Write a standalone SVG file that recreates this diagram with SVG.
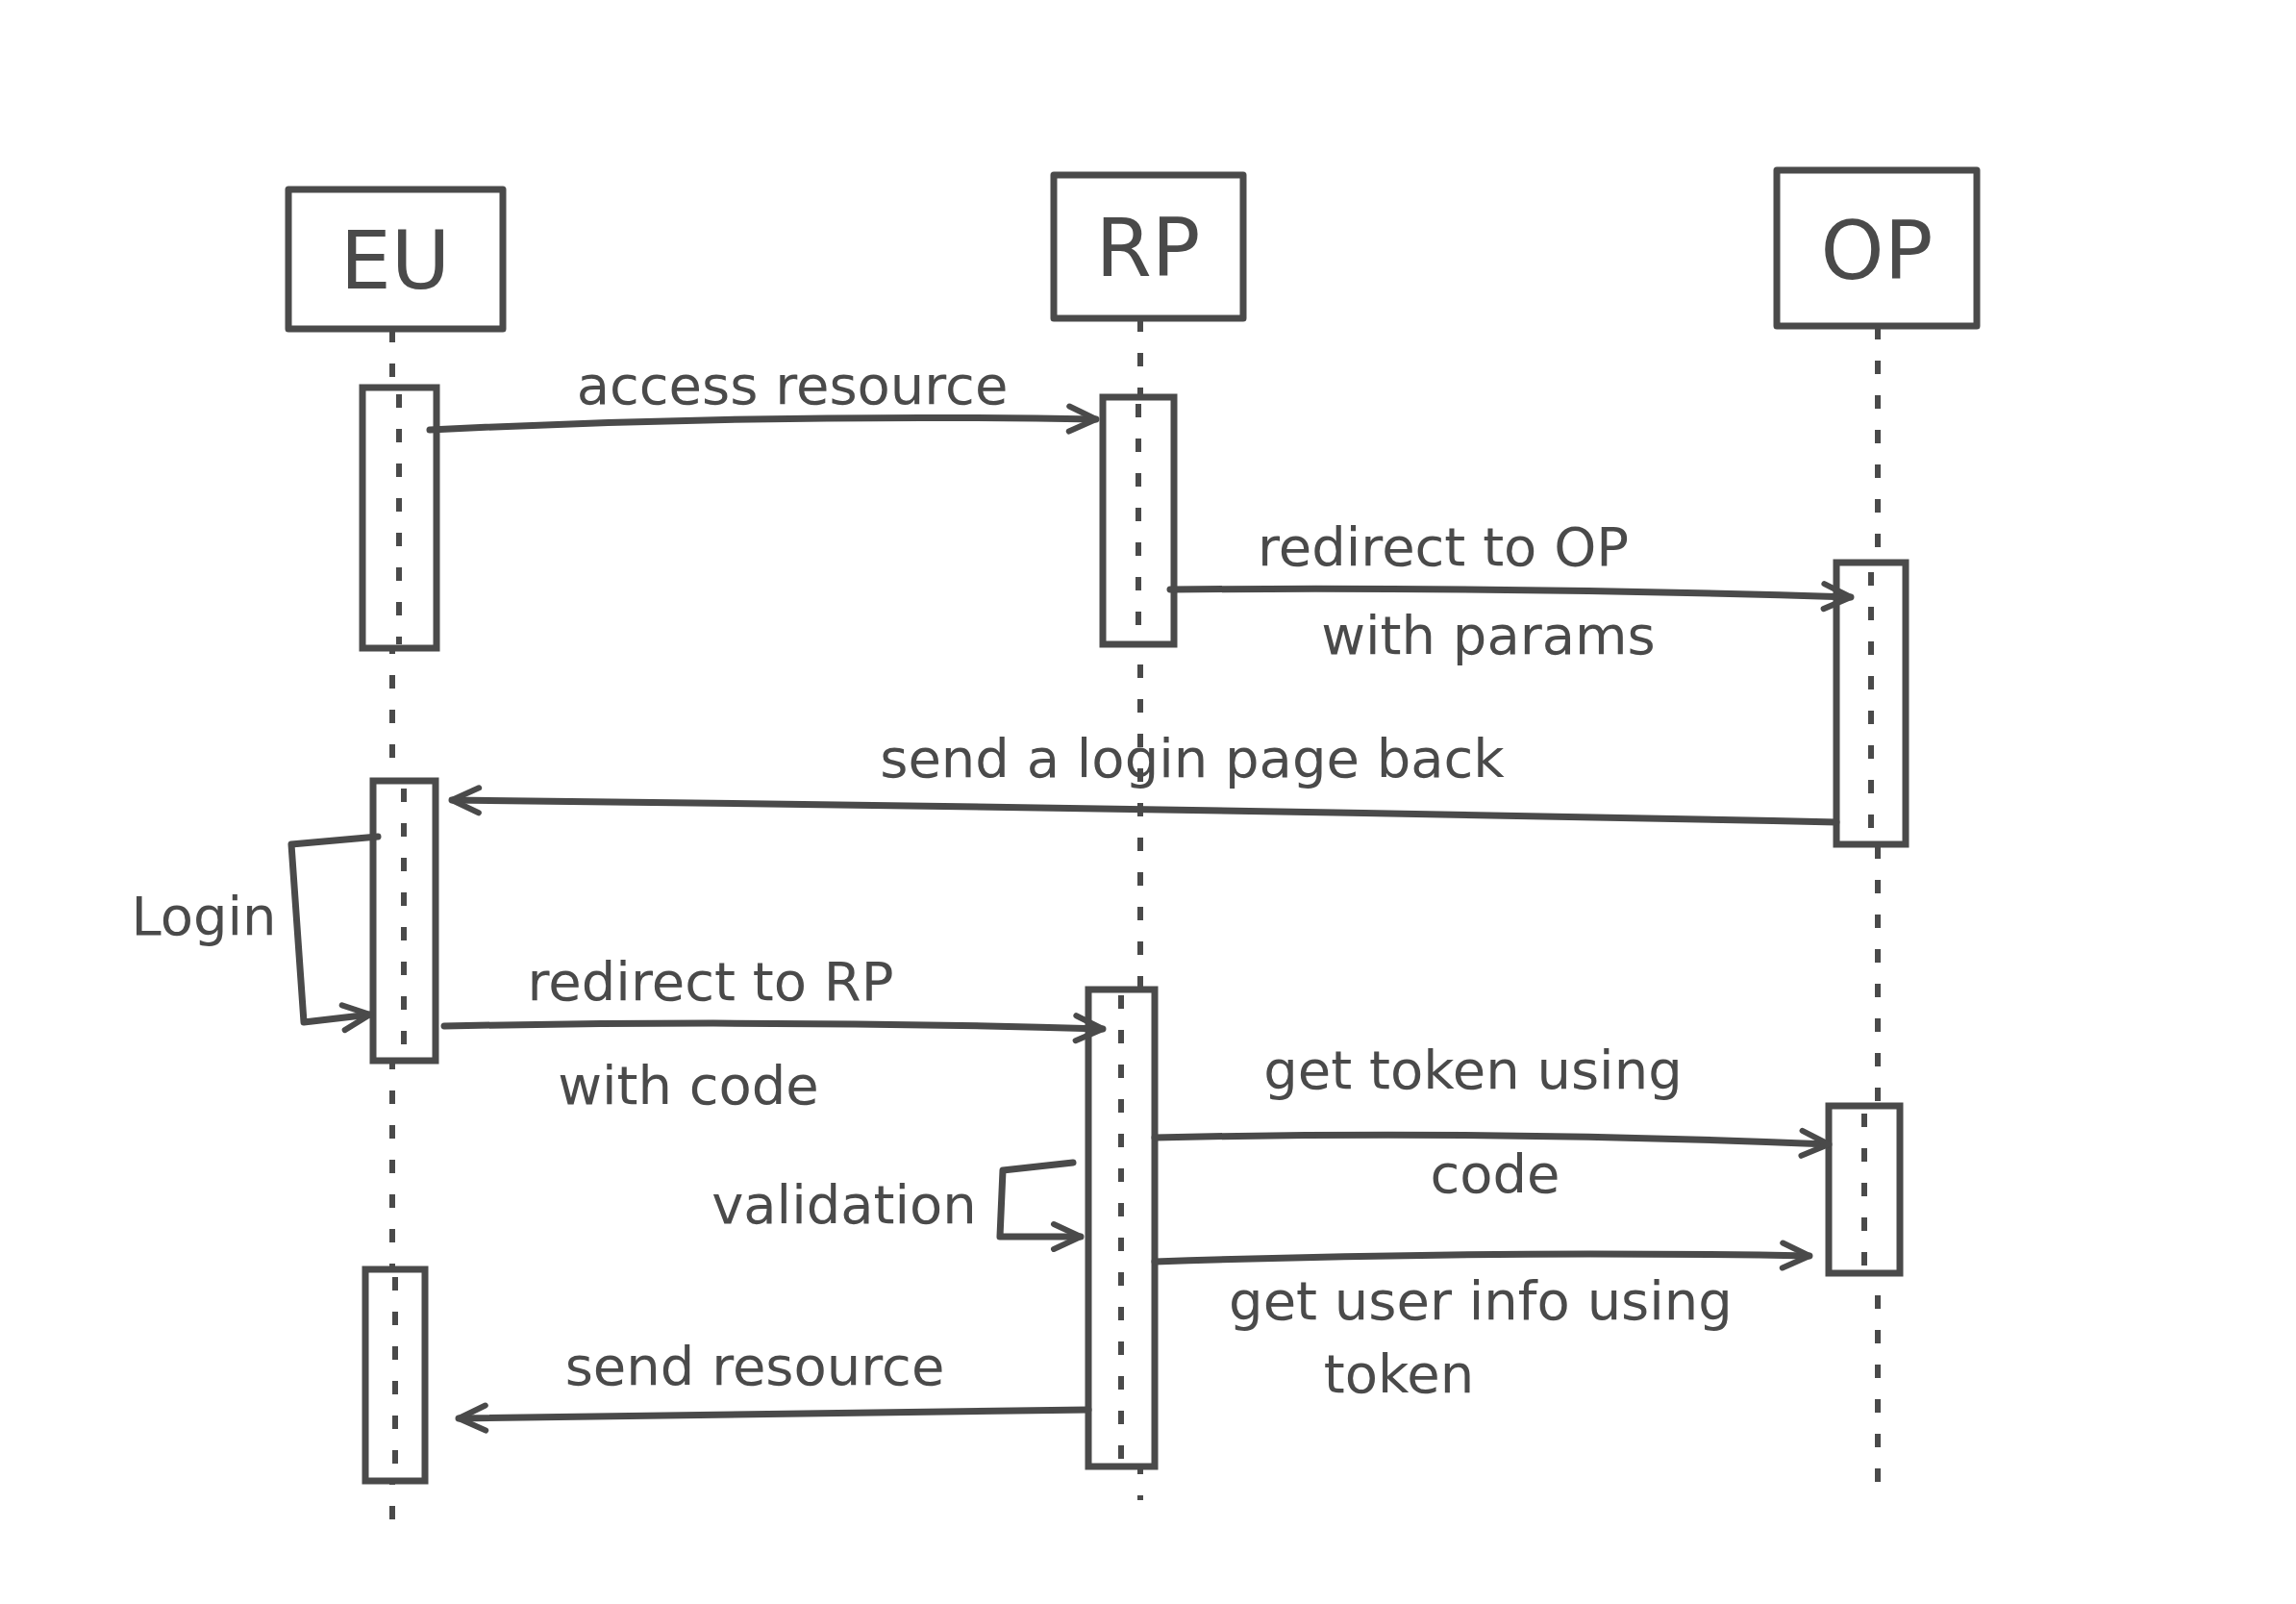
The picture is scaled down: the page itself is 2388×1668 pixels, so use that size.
<svg xmlns="http://www.w3.org/2000/svg" width="2388" height="1668" viewBox="0 0 2388 1668">
<style>
.b{fill:none;stroke:#4a4a4a;stroke-width:7;stroke-linecap:round;stroke-linejoin:round}
.a{fill:#fff;stroke:#4a4a4a;stroke-width:7}
.l{stroke:#4a4a4a;stroke-width:6;stroke-dasharray:14 22;fill:none}
.t{font-family:"DejaVu Sans",sans-serif;font-size:56px;fill:#4a4a4a;text-anchor:middle}
.h{font-size:84px}
</style>
<defs><marker id="m" viewBox="-2 -2 34 34" refX="30" refY="15" markerWidth="34" markerHeight="34" orient="auto" markerUnits="userSpaceOnUse"><path d="M2,2 L30,15 L2,28" fill="none" stroke="#4a4a4a" stroke-width="6" stroke-linecap="round" stroke-linejoin="round"/></marker></defs>
<rect width="2388" height="1668" fill="#fff"/>
<g id="lifelines">
<line class="l" x1="408" y1="342" x2="408" y2="1600"/>
<line class="l" x1="1186" y1="331" x2="1186" y2="1560"/>
<line class="l" x1="1953" y1="339" x2="1953" y2="1560"/>
</g>
<g id="EU"><rect class="b" x="300" y="197" width="223" height="145"/><text class="t h" x="411" y="300">EU</text></g>
<g id="RP"><rect class="b" x="1096" y="182" width="197" height="149"/><text class="t h" x="1194" y="287">RP</text></g>
<g id="OP"><rect class="b" x="1848" y="177" width="208" height="162"/><text class="t h" x="1952" y="290">OP</text></g>
<g id="activations">
<rect class="a" x="377" y="403" width="77" height="271"/>
<rect class="a" x="1147" y="413" width="74" height="257"/>
<rect class="a" x="1910" y="585" width="72" height="293"/>
<rect class="a" x="388" y="812" width="65" height="291"/>
<rect class="a" x="1132" y="1029" width="69" height="496"/>
<rect class="a" x="1902" y="1150" width="74" height="174"/>
<rect class="a" x="380" y="1320" width="62" height="220"/>
</g>
<g id="act-lines">
<line class="l" x1="415" y1="410" x2="415" y2="670"/><line class="l" x1="1184" y1="420" x2="1184" y2="665"/>
<line class="l" x1="1946" y1="595" x2="1946" y2="870"/><line class="l" x1="420" y1="820" x2="420" y2="1095"/>
<line class="l" x1="1166" y1="1035" x2="1166" y2="1520"/><line class="l" x1="1939" y1="1158" x2="1939" y2="1318"/>
<line class="l" x1="411" y1="1328" x2="411" y2="1535"/>
</g>
<g id="connectors" class="b" marker-end="url(#m)">
<path d="M447,447 Q790,430 1140,436"/>
<path d="M1217,613 Q1570,610 1925,621"/>
<path d="M1910,855 Q1190,840 470,832"/>
<path d="M393,870 L303,878 L316,1063 L385,1055"/>
<path d="M462,1067 Q800,1060 1147,1070"/>
<path d="M1201,1183 Q1550,1175 1902,1190"/>
<path d="M1116,1209 L1043,1217 L1040,1286 L1124,1286"/>
<path d="M1201,1312 Q1540,1300 1882,1306"/>
<path d="M1132,1466 Q800,1470 477,1475"/>
</g>
<g id="labels">
<text class="t" x="824" y="420">access resource</text>
<text class="t" x="1501" y="588">redirect to OP</text>
<text class="t" x="1548" y="680">with params</text>
<text class="t" x="1240" y="808">send a login page back</text>
<text class="t" x="212" y="972">Login</text>
<text class="t" x="739" y="1040">redirect to RP</text>
<text class="t" x="716" y="1148">with code</text>
<text class="t" x="1532" y="1132">get token using</text>
<text class="t" x="1555" y="1240">code</text>
<text class="t" x="878" y="1272">validation</text>
<text class="t" x="1540" y="1372">get user info using</text>
<text class="t" x="1455" y="1448">token</text>
<text class="t" x="785" y="1440">send resource</text>
</g>
</svg>
